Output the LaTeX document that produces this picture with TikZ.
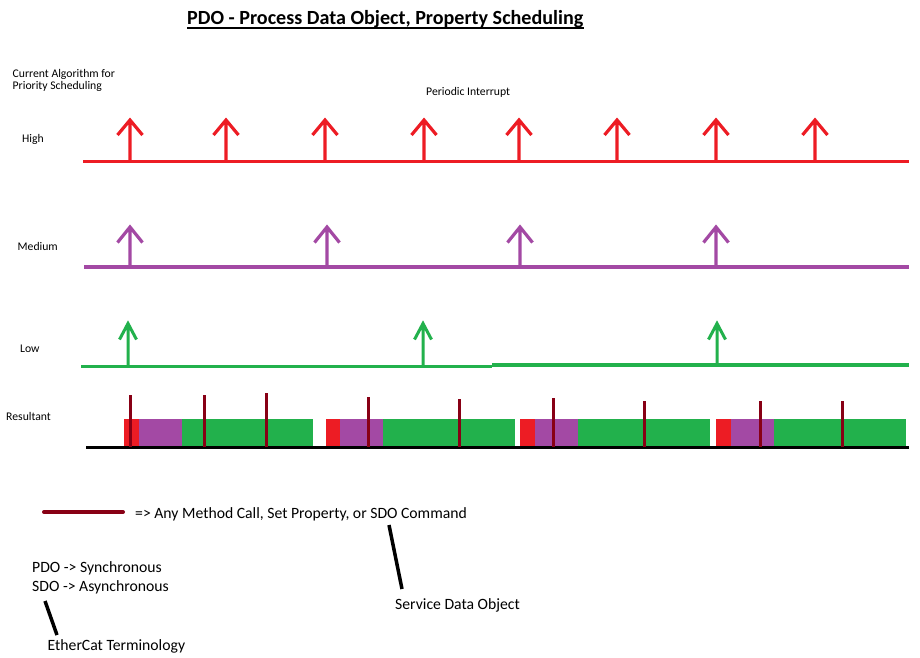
\documentclass[tikz,border=0pt]{standalone}
\usepackage{fontspec}
\setmainfont{Carlito}
\definecolor{hired}{HTML}{ED1C24}
\definecolor{medpurple}{HTML}{A349A4}
\definecolor{lowgreen}{HTML}{22B14C}
\definecolor{callred}{HTML}{880015}
\begin{document}
\begin{tikzpicture}[x=1pt,y=-1pt,
  txt/.style={inner sep=0pt, anchor=base west, font=\fontsize{11.7}{13}\selectfont},
  bigtxt/.style={inner sep=0pt, anchor=base west, font=\fontsize{15.7}{18}\selectfont},
  level/.style={line width=3.8pt},
  shaft/.style={line width=3.2pt, line join=miter},
  callmark/.style={callred, line width=3pt},
  pointer/.style={black, line width=3.5pt}
]
\useasboundingbox[fill=white] (0,0) rectangle (920,657);

% title
\node[inner sep=0pt, anchor=base west, font=\fontsize{20.1}{22}\selectfont\bfseries] (title) at (187,24) {PDO - Process Data Object, Property Scheduling};
\draw[line width=1.4pt] ([yshift=-3.8pt]title.base west) -- ([yshift=-3.8pt]title.base east);

% side labels
\node[txt] (algo1) at (12.5,77) {Current Algorithm for};
\node[txt] (algo2) at (12.5,89.5) {Priority Scheduling};
\node[txt] (periodic) at (426,95) {Periodic Interrupt};
\node[txt] (high) at (22,142.5) {High};
\node[txt] (medium) at (17.5,250.5) {Medium};
\node[txt] (low) at (20,352.5) {Low};
\node[txt] (result) at (6,420) {Resultant};

% high priority: timeline with interrupts
\draw[hired, level] (83,161.5) -- (909,161.5);
\foreach \x in {130,226,325,424,519,617,716,815}
  \draw[hired, shaft] (\x,161) -- (\x,120) (\x-12.5,135) -- (\x,120) -- (\x+12.5,135);

% medium priority
\draw[medpurple, level] (84,267) -- (909,267);
\foreach \x in {130,327,520,716}
  \draw[medpurple, shaft] (\x,267) -- (\x,227) (\x-12.5,242.5) -- (\x,227) -- (\x+12.5,242.5);

% low priority
\draw[lowgreen, level] (81,366.5) -- (492,366.5);
\draw[lowgreen, level] (492,365.3) -- (909,365.3);
\foreach \x in {128,423,717}
  \draw[lowgreen, line width=3pt] (\x,366) -- (\x,323.5) (\x-8.5,339.5) -- (\x,323.5) -- (\x+8.5,339.5);

% resultant schedule
\foreach \a/\b/\c/\d in {124/139/182/313, 326/340/383/515, 520/535/578/710, 716/731/774/906} {
  \fill[hired] (\a,419) rectangle (\b,446.5);
  \fill[medpurple] (\b,419) rectangle (\c,446.5);
  \fill[lowgreen] (\c,419) rectangle (\d,446.5);
}
\draw[black, line width=3.5pt] (86,447.5) -- (909,447.5);
\foreach \x/\t in {130/395, 204/395, 266/393, 368/397, 459/399, 553/398, 644/401, 760/401, 842/401}
  \draw[callmark] (\x,\t) -- (\x,447);

% legend
\coordinate (legA) at (44,512);
\coordinate (legB) at (123,512);
\draw[callred, line width=4pt, line cap=round] (legA) -- (legB);
\node[bigtxt] (legend) at (135,518.5) {=> Any Method Call, Set Property, or SDO Command};

\node[bigtxt] (pdo) at (32,572) {PDO -> Synchronous};
\node[bigtxt] (sdo) at (32,591) {SDO -> Asynchronous};
\node[bigtxt] (service) at (395,609) {Service Data Object};
\node[bigtxt] (ethercat) at (47.5,650) {EtherCat Terminology};

\coordinate (p1a) at (389,525);
\coordinate (p1b) at (402,589);
\draw[pointer] (p1a) -- (p1b);
\coordinate (p2a) at (45,601);
\coordinate (p2b) at (57,635);
\draw[pointer] (p2a) -- (p2b);
\end{tikzpicture}
\end{document}
